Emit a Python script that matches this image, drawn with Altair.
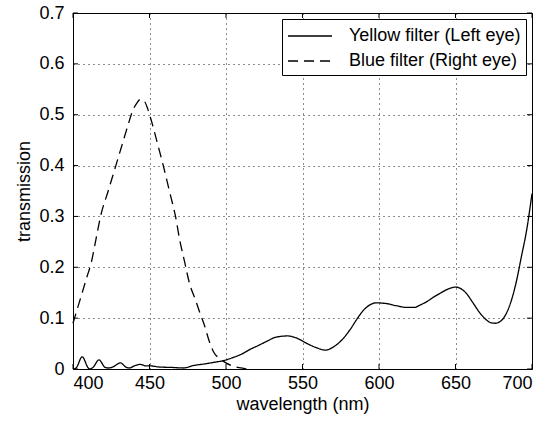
import altair as alt
import pandas as pd

# ---------------- data ----------------
yellow_nm = [400, 402, 406, 410, 411, 413, 417, 421, 423, 426, 431, 435, 437, 440, 444, 448,
             451, 456, 465, 472, 479, 486, 492, 499, 505, 510, 516, 521, 527, 532, 540, 546,
             553, 559, 565, 570, 576, 581, 586, 590, 594, 598, 604, 612, 618, 623, 627, 631,
             636, 640, 645, 650, 654, 657, 661, 666, 670, 673, 676, 679, 683, 686, 690, 693,
             696.5, 700]
yellow_t = [0.0, 0.002, 0.024, 0.002, 0.0, 0.003, 0.018, 0.003, 0.002, 0.004, 0.012, 0.003,
            0.002, 0.006, 0.009, 0.006, 0.006, 0.004, 0.003, 0.002, 0.007, 0.010, 0.013, 0.017,
            0.023, 0.029, 0.039, 0.046, 0.055, 0.062, 0.065, 0.061, 0.050, 0.042, 0.037, 0.043,
            0.058, 0.077, 0.100, 0.116, 0.126, 0.130, 0.129, 0.124, 0.121, 0.121, 0.126, 0.132,
            0.142, 0.149, 0.157, 0.161, 0.157, 0.149, 0.132, 0.110, 0.097, 0.091, 0.090, 0.093,
            0.108, 0.130, 0.175, 0.220, 0.273, 0.345]

blue_nm = [400, 403, 406, 409, 412, 415, 418, 423, 428, 432, 436, 439, 441.5, 444, 446.5, 449,
           452, 455.5, 459, 463, 467, 470, 473, 476, 480, 483, 486, 489, 492, 496, 500, 505,
           510, 514]
blue_t = [0.09, 0.12, 0.15, 0.18, 0.21, 0.255, 0.30, 0.35, 0.40, 0.44, 0.48, 0.508, 0.522,
          0.53, 0.527, 0.51, 0.48, 0.44, 0.40, 0.35, 0.30, 0.25, 0.21, 0.17, 0.136, 0.11,
          0.085, 0.055, 0.033, 0.02, 0.012, 0.005, 0.002, 0.0]

series_names = ["Yellow filter (Left eye)", "Blue filter (Right eye)"]
x_ticks = [400, 450, 500, 550, 600, 650, 700]
y_ticks = [0, 0.1, 0.2, 0.3, 0.4, 0.5, 0.6, 0.7]

df = pd.concat([
    pd.DataFrame({"nm": yellow_nm, "t": yellow_t, "series": series_names[0]}),
    pd.DataFrame({"nm": blue_nm, "t": blue_t, "series": series_names[1]}),
])
dfx = pd.DataFrame({"v": x_ticks})
dfy = pd.DataFrame({"v": y_ticks})

W, H = 459, 356
FONT = "Liberation Sans"
FS = 18
xs = alt.Scale(domain=[400, 700], nice=False, zero=False)
ys = alt.Scale(domain=[0, 0.7], nice=False)

lines = alt.Chart(df).mark_line(color="black", strokeWidth=1.3, interpolate="monotone").encode(
    x=alt.X("nm:Q", scale=xs, axis=alt.Axis(values=x_ticks, title="wavelength (nm)",
                                            labelPadding=5, titlePadding=3)),
    y=alt.Y("t:Q", scale=ys, axis=alt.Axis(values=y_ticks, title="transmission", format="~g",
                                           labelPadding=9, titlePadding=5)),
    strokeDash=alt.StrokeDash("series:N", sort=series_names,
                              scale=alt.Scale(domain=series_names, range=[[1, 0], [10, 6]]),
                              legend=alt.Legend(title=None, orient="top-right", offset=6,
                                                fillColor="white", strokeColor="black",
                                                padding=5, symbolType="M-2,0H2",
                                                symbolSize=484, symbolOffset=11,
                                                symbolStrokeColor="black",
                                                symbolFillColor="transparent",
                                                symbolStrokeWidth=1.3, labelFontSize=FS,
                                                labelFont=FONT, labelColor="black",
                                                rowPadding=4, labelOffset=27, labelLimit=400)),
    order="nm:Q",
)

tick_len = 5
xt_bottom = alt.Chart(dfx).mark_rule(color="black").encode(
    x=alt.X("v:Q", scale=xs), y=alt.value(H), y2=alt.value(H - tick_len))
xt_top = alt.Chart(dfx).mark_rule(color="black").encode(
    x=alt.X("v:Q", scale=xs), y=alt.value(0), y2=alt.value(tick_len))
yt_left = alt.Chart(dfy).mark_rule(color="black").encode(
    y=alt.Y("v:Q", scale=ys), x=alt.value(0), x2=alt.value(tick_len))
yt_right = alt.Chart(dfy).mark_rule(color="black").encode(
    y=alt.Y("v:Q", scale=ys), x=alt.value(W), x2=alt.value(W - tick_len))

chart = alt.layer(lines, xt_bottom, xt_top, yt_left, yt_right).properties(
    width=W, height=H,
    background="white",
    autosize=alt.AutoSizeParams(type="none"),
    padding={"left": 73, "top": 13, "right": 17, "bottom": 54},
).configure_view(stroke="black", strokeWidth=1).configure_axis(
    domain=False, ticks=False, grid=True, gridColor="black", gridDash=[1, 4],
    gridOpacity=0.9, labelFont=FONT, titleFont=FONT, labelFontSize=FS,
    titleFontSize=FS, titleFontWeight="normal", labelColor="black", titleColor="black",
)

chart.save("out.html", embed_options={"renderer": "svg", "actions": False})
